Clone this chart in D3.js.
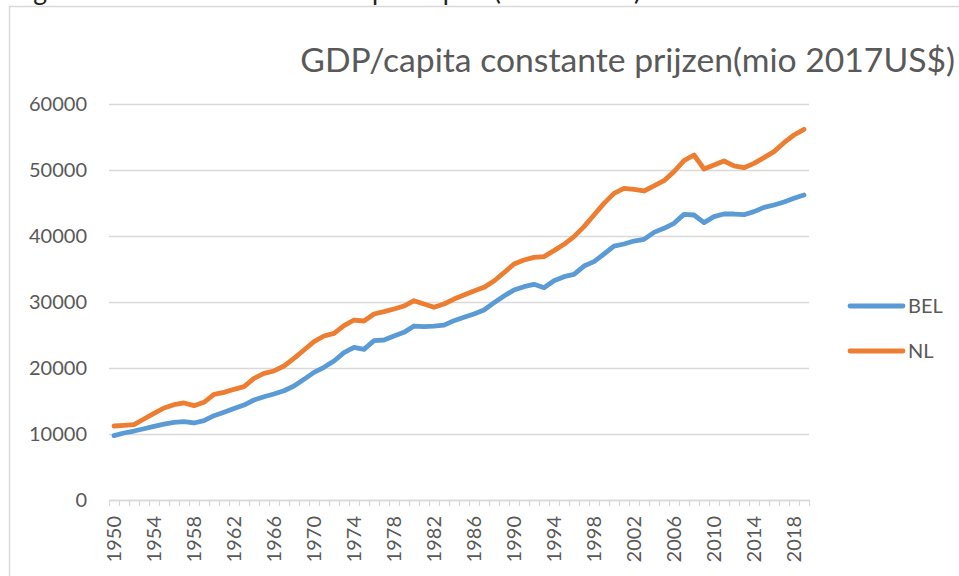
<!DOCTYPE html>
<html>
<head>
<meta charset="utf-8">
<script src="https://cdn.jsdelivr.net/npm/d3@7"></script>
<style>
    html, body { margin: 0; padding: 0; background: #fff; overflow: hidden; }
    svg { display: block; font-family: Lato, "Open Sans", sans-serif; }
</style>
</head>
<body>
<div id="graph"></div>
<script>
"use strict";

const years = d3.range(1950, 2020);
const yTicks = [0, 10000, 20000, 30000, 40000, 50000, 60000];
const seriesNames = ["BEL", "NL"];
const colors = ["#5b9bd5", "#ed7d31"];

const bel = [
    9750, 10150, 10450, 10800, 11150, 11500, 11750, 11870, 11670, 12020,
    12780, 13300, 13850, 14390, 15150, 15650, 16060, 16560, 17270, 18280,
    19340, 20100, 21060, 22320, 23130, 22830, 24140, 24240, 24850, 25400,
    26360, 26260, 26360, 26500, 27170, 27680, 28180, 28790, 29900, 30910,
    31820, 32320, 32680, 32170, 33230, 33840, 34190, 35450, 36110, 37270,
    38480, 38790, 39240, 39490, 40550, 41160, 41920, 43280, 43180, 42020,
    42930, 43330, 43330, 43230, 43690, 44340, 44700, 45150, 45710, 46210
];
const nl = [
    11210, 11310, 11420, 12270, 13130, 13940, 14440, 14700, 14290, 14800,
    16010, 16310, 16770, 17170, 18430, 19190, 19550, 20300, 21460, 22730,
    23990, 24850, 25250, 26420, 27270, 27120, 28180, 28540, 28940, 29390,
    30200, 29700, 29190, 29700, 30450, 31060, 31670, 32220, 33180, 34440,
    35760, 36360, 36770, 36870, 37780, 38740, 39900, 41420, 43180, 44950,
    46460, 47220, 47070, 46820, 47580, 48380, 49750, 51410, 52270, 50150,
    50760, 51360, 50610, 50350, 51010, 51870, 52780, 54140, 55300, 56160
];

const titleText = "GDP/capita constante prijzen(mio 2017US$)";
const captionText = "Figuur 1: Evolutie van het BBP per capita (1950-2019)";

(function() {
    const W = 959, H = 576;
    const plot = { left: 109, right: 809, top: 104, bottom: 500 };
    const gray = "#595959";
    const gridColor = "#d9d9d9";

    const svg = d3.select("#graph").append("svg")
        .attr("width", W)
        .attr("height", H);

    // caption of the document, cut off by the top of the picture (as in the source)
    svg.append("text")
        .attr("x", 12)
        .attr("y", 0)
        .attr("textLength", 629)
        .attr("lengthAdjust", "spacingAndGlyphs")
        .style("font-size", "26px")
        .style("fill", "#222")
        .text(captionText);

    // chart frame
    svg.append("rect")
        .attr("x", 9.5)
        .attr("y", 6.5)
        .attr("width", 1000)
        .attr("height", 700)
        .attr("fill", "#fff")
        .attr("stroke", gridColor)
        .attr("stroke-width", 1.5);

    const xScale = d3.scaleBand()
        .domain(years)
        .range([plot.left, plot.right]);
    const xEdge = d3.scaleLinear()
        .domain([0, years.length])
        .range([plot.left, plot.right]);
    const yScale = d3.scaleLinear()
        .domain([0, 60000])
        .range([plot.bottom, plot.top]);

    // gridlines + y labels
    const yAxis = svg.append("g")
        .attr("transform", "translate(" + plot.left + ",0)")
        .call(d3.axisLeft(yScale)
            .tickValues(yTicks)
            .tickSize(-(plot.right - plot.left))
            .tickPadding(22)
            .tickFormat(d3.format("d")));
    yAxis.select(".domain").remove();
    yAxis.selectAll(".tick line")
        .attr("stroke", gridColor)
        .attr("stroke-width", 1.7);
    yAxis.selectAll(".tick text")
        .style("font-size", "20px")
        .style("font-family", "Lato, sans-serif")
        .attr("fill", gray);

    // x axis line and category ticks
    const xAxisLine = svg.append("g")
        .attr("transform", "translate(0," + plot.bottom + ")")
        .call(d3.axisBottom(xEdge)
            .tickValues(d3.range(0, years.length + 1))
            .tickSizeInner(6)
            .tickSizeOuter(0)
            .tickFormat(""));
    xAxisLine.select(".domain").attr("stroke", gridColor).attr("stroke-width", 1.7);
    xAxisLine.selectAll(".tick line").attr("stroke", gridColor).attr("stroke-width", 1.2);

    // x labels, every four years, rotated
    svg.append("g")
        .selectAll("text")
        .data(years.filter((y) => (y - 1950) % 4 === 0))
        .enter()
        .append("text")
            .attr("transform", (d) => "translate(" + (xScale(d) + xScale.bandwidth() / 2) + ",516) rotate(-90)")
            .attr("text-anchor", "end")
            .attr("dy", "0.36em")
            .style("font-size", "20px")
            .attr("fill", gray)
            .text((d) => d);

    // lines
    const line = d3.line()
        .x((d, i) => xScale(years[i]) + xScale.bandwidth() / 2)
        .y((d) => yScale(d));
    [bel, nl].forEach((vals, i) => {
        svg.append("path")
            .datum(vals)
            .attr("d", line)
            .attr("fill", "none")
            .attr("stroke", colors[i])
            .attr("stroke-width", 4.8)
            .attr("stroke-linejoin", "round")
            .attr("stroke-linecap", "round");
    });

    // legend
    const legend = svg.append("g");
    seriesNames.forEach((name, i) => {
        const ly = 306 + i * 45;
        legend.append("line")
            .attr("x1", 850).attr("x2", 903)
            .attr("y1", ly).attr("y2", ly)
            .attr("stroke", colors[i])
            .attr("stroke-width", 4.8)
            .attr("stroke-linecap", "round");
        legend.append("text")
            .attr("x", 908)
            .attr("y", ly)
            .attr("dy", "0.36em")
            .style("font-size", "20px")
            .attr("fill", gray)
            .text(name);
    });

    // title, right-aligned to the frame
    const title = svg.append("text")
        .attr("x", 955)
        .attr("y", 72)
        .attr("text-anchor", "end")
        .style("font-size", "29px")
        .attr("fill", gray)
        .text(titleText);
    const tw = title.node().getComputedTextLength();
    title.style("font-size", (29 * 655 / tw) + "px");
})();
</script>
</body>
</html>
